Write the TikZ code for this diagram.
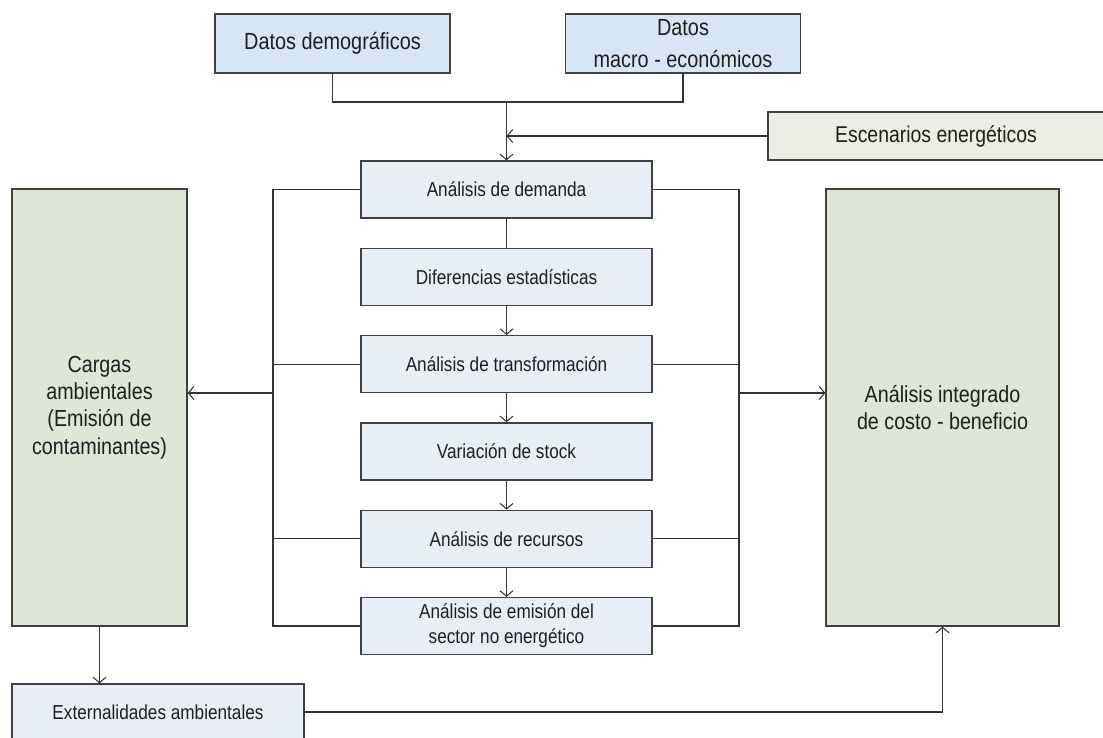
\documentclass[tikz,border=0pt]{standalone}
\usepackage{fontspec}
\setmainfont{Liberation Sans}[FakeStretch=0.85]
\usetikzlibrary{positioning, arrows.meta}

\definecolor{datablue}{RGB}{214,230,244}
\definecolor{procblue}{RGB}{232,238,247}
\definecolor{scenbeige}{RGB}{235,238,224}
\definecolor{outgreen}{RGB}{223,230,211}
\definecolor{edgegray}{RGB}{64,64,64}

\begin{document}
\begin{tikzpicture}[
    node distance=1.746cm,
    on grid,
    box/.style={draw=edgegray, line width=0.7pt, text=black!88, inner sep=2pt, align=center},
    data/.style={box, fill=datablue, minimum width=4.7cm, minimum height=1.18cm, font=\fontsize{13.3}{18.5}\selectfont},
    scen/.style={box, fill=scenbeige, minimum width=6.72cm, minimum height=0.96cm, font=\fontsize{13}{15}\selectfont},
    proc/.style={box, fill=procblue, minimum width=5.82cm, minimum height=1.14cm, font=\fontsize{11.5}{14.2}\selectfont},
    result/.style={box, fill=outgreen, minimum height=8.74cm, font=\fontsize{13.2}{15.5}\selectfont},
    wire/.style={line width=0.6pt, draw=black!80},
    every edge/.append style={wire},
    >={Straight Barb[length=1.1mm, width=2.6mm]}
]
   \useasboundingbox (0,0) rectangle (22.06,-14.74);

   % Input data
   \node[data] (demog) at (6.65,-0.87) {Datos demográficos};
   \node[data] (macro) at (13.66,-0.87) {Datos\\macro - económicos};
   \node[scen] (esc) at (18.72,-2.72) {Escenarios energéticos};

   % Balance chain
   \node[proc] (dem) at (10.13,-3.79) {Análisis de demanda};
   \node[proc] (dif) [below=of dem] {Diferencias estadísticas};
   \node[proc] (trf) [below=of dif] {Análisis de transformación};
   \node[proc] (var) [below=of trf] {Variación de stock};
   \node[proc] (rec) [below=of var] {Análisis de recursos};
   \node[proc] (emi) [below=of rec] {Análisis de emisión del\\sector no energético};

   % Results
   \node[result, minimum width=3.5cm] (carg) at (1.99,-8.15) {Cargas\\ambientales\\(Emisión de\\contaminantes)};
   \node[result, minimum width=4.66cm] (integ) at (18.85,-8.15) {Análisis integrado\\de costo - beneficio};
   \node[proc, minimum width=5.84cm, minimum height=1.12cm] (ext) at (3.16,-14.24) {Externalidades ambientales};

   % Collector points
   \coordinate (mrg) at (10.13,-2.04);
   \coordinate (lbus) at (5.46,-3.79);
   \coordinate (rbus) at (14.78,-3.79);
   \coordinate (lout) at (5.46,-7.86);
   \coordinate (rout) at (14.78,-7.86);

   % Inputs into the chain
   \draw[wire] (demog.south) |- (mrg) -| (macro.south);
   \draw[wire, ->] (mrg) -- (dem.north);
   \draw[wire, ->] (esc.west) -- (esc.west -| mrg);

   % Chain
   \path[->]
   (dem) edge[-] (dif)
   (dif) edge (trf)
   (trf) edge (var)
   (var) edge (rec)
   (rec) edge (emi);

   % Side buses
   \draw[wire] (dem.west) -- (lbus) -- (lbus |- emi.west) -- (emi.west);
   \draw[wire] (trf.west) -- (trf.west -| lbus);
   \draw[wire] (rec.west) -- (rec.west -| lbus);
   \draw[wire] (dem.east) -- (rbus) -- (rbus |- emi.east) -- (emi.east);
   \draw[wire] (trf.east) -- (trf.east -| rbus);
   \draw[wire] (rec.east) -- (rec.east -| rbus);

   % Outputs
   \draw[wire, ->] (lout) -- (lout -| carg.east);
   \draw[wire, ->] (rout) -- (rout -| integ.west);
   \draw[wire, ->] (carg.south) -- (carg.south |- ext.north);
   \draw[wire, ->] (ext.east) -| (integ.south);

\end{tikzpicture}
\end{document}
